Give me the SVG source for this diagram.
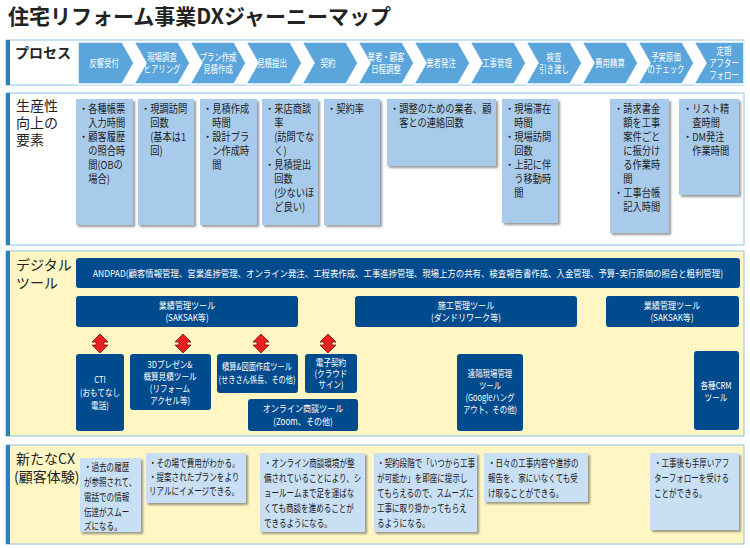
<svg xmlns="http://www.w3.org/2000/svg" width="750" height="548" viewBox="0 0 750 548">
<style>
text{font-family:"Noto Sans CJK JP","Liberation Sans",sans-serif;fill:#222}
.title{font-size:21px;font-weight:bold}
.sec{font-size:14px}
.ch{fill:#5aa5dc;stroke:#fff;stroke-width:1.5}
.chT{font-size:10px;fill:#fff;text-anchor:middle}
.card{fill:#a9cbeb}
.card2{fill:#c9dff3}
.ct{font-size:11px}
.cx{font-size:10.5px}
.db{fill:#004b8d}
.dt{font-size:9.5px;fill:#fff;text-anchor:middle}
.arr{fill:#e8211f;stroke:#7a1010;stroke-width:0.8}
</style>
<defs>
<filter id="sh" x="-10%" y="-10%" width="130%" height="130%"><feDropShadow dx="2" dy="2" stdDeviation="1.2" flood-color="#555" flood-opacity="0.6"/></filter>
</defs>
<text class="title" x="8" y="24">住宅リフォーム事業DXジャーニーマップ</text>

<g id="process">
<rect x="6" y="40" width="738" height="45" fill="#fff" stroke="#8cc3e6"/>
<rect x="6" y="40" width="4" height="45" fill="#2a7fc0"/>
<text class="sec" x="15" y="58" font-weight="bold">プロセス</text>
<g id="chevrons">
<polygon class="ch" points="78,42 122,42 134,63 122,84 78,84"/>
<polygon class="ch" points="134,42 178,42 190,63 178,84 134,84 146,63"/>
<polygon class="ch" points="190,42 234,42 246,63 234,84 190,84 202,63"/>
<polygon class="ch" points="246,42 290,42 302,63 290,84 246,84 258,63"/>
<polygon class="ch" points="302,42 346,42 358,63 346,84 302,84 314,63"/>
<polygon class="ch" points="358,42 402,42 414,63 402,84 358,84 370,63"/>
<polygon class="ch" points="414,42 458,42 470,63 458,84 414,84 426,63"/>
<polygon class="ch" points="470,42 514,42 526,63 514,84 470,84 482,63"/>
<polygon class="ch" points="526,42 570,42 582,63 570,84 526,84 538,63"/>
<polygon class="ch" points="582,42 626,42 638,63 626,84 582,84 594,63"/>
<polygon class="ch" points="638,42 682,42 694,63 682,84 638,84 650,63"/>
<polygon class="ch" points="694,42 744,42 744,84 694,84 706,63"/>
</g>
<g transform="translate(104,0) scale(0.74,1)"><text class="chT" x="0" y="67">反響受付</text></g>
<g transform="translate(162,0) scale(0.74,1)"><text class="chT" x="0" y="61">現場調査</text><text class="chT" x="0" y="73">ヒアリング</text></g>
<g transform="translate(218,0) scale(0.74,1)"><text class="chT" x="0" y="61">プラン作成</text><text class="chT" x="0" y="73">見積作成</text></g>
<g transform="translate(272,0) scale(0.74,1)"><text class="chT" x="0" y="67">見積提出</text></g>
<g transform="translate(328,0) scale(0.74,1)"><text class="chT" x="0" y="67">契約</text></g>
<g transform="translate(386,0) scale(0.74,1)"><text class="chT" x="0" y="61">業者・顧客</text><text class="chT" x="0" y="73">日程調整</text></g>
<g transform="translate(441,0) scale(0.74,1)"><text class="chT" x="0" y="67">業者発注</text></g>
<g transform="translate(497,0) scale(0.74,1)"><text class="chT" x="0" y="67">工事管理</text></g>
<g transform="translate(554,0) scale(0.74,1)"><text class="chT" x="0" y="61">検査</text><text class="chT" x="0" y="73">引き渡し</text></g>
<g transform="translate(610,0) scale(0.74,1)"><text class="chT" x="0" y="67">費用精算</text></g>
<g transform="translate(666,0) scale(0.74,1)"><text class="chT" x="0" y="61">予実原価</text><text class="chT" x="0" y="73">のチェック</text></g>
<g transform="translate(724,0) scale(0.74,1)"><text class="chT" x="0" y="55">定期</text><text class="chT" x="0" y="67">アフター</text><text class="chT" x="0" y="79">フォロー</text></g>
</g>

<g id="productivity">
<rect x="6" y="93" width="738" height="152" fill="#fff" stroke="#8cc3e6"/>
<rect x="6" y="93" width="4" height="152" fill="#2a7fc0"/>
<text class="sec" x="16" y="111">生産性</text><text class="sec" x="16" y="128">向上の</text><text class="sec" x="16" y="145">要素</text>
<g filter="url(#sh)">
<rect class="card" x="76" y="99" width="57" height="126"/>
<rect class="card" x="138" y="99" width="56" height="126"/>
<rect class="card" x="200" y="99" width="57" height="126"/>
<rect class="card" x="262" y="99" width="56" height="126"/>
<rect class="card" x="324" y="99" width="56" height="126"/>
<rect class="card" x="387" y="99" width="109" height="67"/>
<rect class="card" x="502" y="99" width="56" height="124"/>
<rect class="card" x="610" y="99" width="59" height="134"/>
<rect class="card" x="679" y="99" width="60" height="96"/>
</g>
<g transform="translate(79,0) scale(0.84,1)"><text class="ct" x="0" y="113">・各種帳票</text><text class="ct" x="0" y="127">　入力時間</text><text class="ct" x="0" y="141">・顧客履歴</text><text class="ct" x="0" y="155">　の照合時</text><text class="ct" x="0" y="169">　間(OBの</text><text class="ct" x="0" y="183">　場合)</text></g>
<g transform="translate(141,0) scale(0.84,1)"><text class="ct" x="0" y="113">・現調訪問</text><text class="ct" x="0" y="127">　回数</text><text class="ct" x="0" y="141">　(基本は1</text><text class="ct" x="0" y="155">　回)</text></g>
<g transform="translate(203,0) scale(0.84,1)"><text class="ct" x="0" y="113">・見積作成</text><text class="ct" x="0" y="127">　時間</text><text class="ct" x="0" y="141">・設計プラ</text><text class="ct" x="0" y="155">　ン作成時</text><text class="ct" x="0" y="169">　間</text></g>
<g transform="translate(265,0) scale(0.84,1)"><text class="ct" x="0" y="113">・来店商談</text><text class="ct" x="0" y="127">　率</text><text class="ct" x="0" y="141">　(訪問でな</text><text class="ct" x="0" y="155">　く)</text><text class="ct" x="0" y="169">・見積提出</text><text class="ct" x="0" y="183">　回数</text><text class="ct" x="0" y="197">　(少ないほ</text><text class="ct" x="0" y="211">　ど良い)</text></g>
<g transform="translate(327,0) scale(0.84,1)"><text class="ct" x="0" y="113">・契約率</text></g>
<g transform="translate(390,0) scale(0.84,1)"><text class="ct" x="0" y="113">・調整のための業者、顧</text><text class="ct" x="0" y="127">　客との連絡回数</text></g>
<g transform="translate(505,0) scale(0.84,1)"><text class="ct" x="0" y="113">・現場滞在</text><text class="ct" x="0" y="127">　時間</text><text class="ct" x="0" y="141">・現場訪問</text><text class="ct" x="0" y="155">　回数</text><text class="ct" x="0" y="169">・上記に伴</text><text class="ct" x="0" y="183">　う移動時</text><text class="ct" x="0" y="197">　間</text></g>
<g transform="translate(614,0) scale(0.84,1)"><text class="ct" x="0" y="113">・請求書金</text><text class="ct" x="0" y="127">　額を工事</text><text class="ct" x="0" y="141">　案件ごと</text><text class="ct" x="0" y="155">　に振分け</text><text class="ct" x="0" y="169">　る作業時</text><text class="ct" x="0" y="183">　間</text><text class="ct" x="0" y="197">・工事台帳</text><text class="ct" x="0" y="211">　記入時間</text></g>
<g transform="translate(683,0) scale(0.84,1)"><text class="ct" x="0" y="113">・リスト精</text><text class="ct" x="0" y="127">　査時間</text><text class="ct" x="0" y="141">・DM発注</text><text class="ct" x="0" y="155">　作業時間</text></g>
</g>

<g id="digital">
<rect x="6" y="251" width="738" height="185" fill="#fff6c4" stroke="#8cc3e6"/>
<rect x="6" y="251" width="4" height="185" fill="#2a7fc0"/>
<text class="sec" x="16" y="270">デジタル</text><text class="sec" x="16" y="288">ツール</text>
<g id="andpad"><rect class="db" x="76" y="258" width="664" height="30" rx="3"/>
<text class="dt" x="408" y="277" textLength="630" lengthAdjust="spacingAndGlyphs">ANDPAD(顧客情報管理、営業進捗管理、オンライン発注、工程表作成、工事進捗管理、現場上方の共有、検査報告書作成、入金管理、予算ｰ実行原価の照合と粗利管理)</text></g>
<g id="saksak1"><rect class="db" x="76" y="296" width="222" height="31" rx="3"/><g transform="translate(187,0) scale(0.85,1)"><text class="dt" x="0" y="309">業績管理ツール</text><text class="dt" x="0" y="321">(SAKSAK等)</text></g></g>
<g id="sekou"><rect class="db" x="355" y="296" width="222" height="31" rx="3"/><g transform="translate(466,0) scale(0.85,1)"><text class="dt" x="0" y="309">施工管理ツール</text><text class="dt" x="0" y="321">(ダンドリワーク等)</text></g></g>
<g id="saksak2"><rect class="db" x="606" y="296" width="133" height="31" rx="3"/><g transform="translate(672,0) scale(0.85,1)"><text class="dt" x="0" y="309">業績管理ツール</text><text class="dt" x="0" y="321">(SAKSAK等)</text></g></g>
<g id="cti"><rect class="db" x="76" y="354" width="48" height="77" rx="3"/><g transform="translate(100,0) scale(0.8,1)"><text class="dt" x="0" y="383">CTI</text><text class="dt" x="0" y="396">(おもてなし</text><text class="dt" x="0" y="409">電話)</text></g></g>
<g id="p3d"><rect class="db" x="130" y="354" width="81" height="56" rx="3"/><g transform="translate(170,0) scale(0.8,1)"><text class="dt" x="0" y="368">3Dプレゼン&amp;</text><text class="dt" x="0" y="380">概算見積ツール</text><text class="dt" x="0" y="392">(リフォーム</text><text class="dt" x="0" y="404">アクセル等)</text></g></g>
<g id="sekisan"><rect class="db" x="217" y="354" width="81" height="39" rx="3"/><g transform="translate(257,0) scale(0.76,1)"><text class="dt" x="0" y="370">積算&amp;図面作成ツール</text><text class="dt" x="0" y="383">(せきさん係長、その他)</text></g></g>
<g id="denshi"><rect class="db" x="305" y="354" width="52" height="39" rx="3"/><g transform="translate(331,0) scale(0.8,1)"><text class="dt" x="0" y="366">電子契約</text><text class="dt" x="0" y="377">(クラウド</text><text class="dt" x="0" y="388">サイン)</text></g></g>
<g id="online"><rect class="db" x="248" y="399" width="110" height="32" rx="3"/><g transform="translate(303,0) scale(0.85,1)"><text class="dt" x="0" y="412">オンライン商談ツール</text><text class="dt" x="0" y="425">(Zoom、その他)</text></g></g>
<g id="enkaku"><rect class="db" x="457" y="354" width="66" height="77" rx="3"/><g transform="translate(490,0) scale(0.78,1)"><text class="dt" x="0" y="377">遠隔現場管理</text><text class="dt" x="0" y="389">ツール</text><text class="dt" x="0" y="401">(Googleハング</text><text class="dt" x="0" y="413">アウト、その他)</text></g></g>
<g id="crm"><rect class="db" x="694" y="351" width="45" height="79" rx="3"/><g transform="translate(716,0) scale(0.8,1)"><text class="dt" x="0" y="389" font-size="8.5">各種CRM</text><text class="dt" x="0" y="401" font-size="8.5">ツール</text></g></g>
<g id="connectors">
<polygon class="arr" points="100,334 108,342 104,342 104,345 108,345 100,353 92,345 96,345 96,342 92,342"/>
<polygon class="arr" points="183,334 191,342 187,342 187,345 191,345 183,353 175,345 179,345 179,342 175,342"/>
<polygon class="arr" points="261,334 269,342 265,342 265,345 269,345 261,353 253,345 257,345 257,342 253,342"/>
<polygon class="arr" points="328,334 336,342 332,342 332,345 336,345 328,353 320,345 324,345 324,342 320,342"/>
</g>
</g>

<g id="cx">
<rect x="6" y="445" width="738" height="99" fill="#fff6c4" stroke="#8cc3e6"/>
<rect x="6" y="445" width="4" height="99" fill="#2a7fc0"/>
<text class="sec" x="16" y="464">新たなCX</text><text class="sec" x="14" y="482">(顧客体験)</text>
<g filter="url(#sh)">
<rect class="card2" x="80" y="458" width="61" height="74"/>
<rect class="card2" x="146" y="453" width="100" height="50"/>
<rect class="card2" x="260" y="453" width="105" height="79"/>
<rect class="card2" x="374" y="453" width="103" height="79"/>
<rect class="card2" x="484" y="453" width="104" height="49"/>
<rect class="card2" x="650" y="453" width="89" height="77"/>
</g>
<g transform="translate(84,0) scale(0.72,1)"><text class="cx" x="0" y="471">・過去の履歴</text><text class="cx" x="0" y="486">が参照されて、</text><text class="cx" x="0" y="501">電話での情報</text><text class="cx" x="0" y="516">伝達がスムー</text><text class="cx" x="0" y="530">ズになる。</text></g>
<g transform="translate(149,0) scale(0.72,1)"><text class="cx" x="0" y="467">・その場で費用がわかる。</text><text class="cx" x="0" y="481">・提案されたプランをより</text><text class="cx" x="0" y="495">リアルにイメージできる。</text></g>
<g transform="translate(264,0) scale(0.72,1)"><text class="cx" x="0" y="467">・オンライン商談環境が整</text><text class="cx" x="0" y="482">備されていることにより、シ</text><text class="cx" x="0" y="497">ョールームまで足を運ばな</text><text class="cx" x="0" y="512">くても商談を進めることが</text><text class="cx" x="0" y="527">できるようになる。</text></g>
<g transform="translate(377,0) scale(0.72,1)"><text class="cx" x="0" y="467">・契約段階で「いつから工事</text><text class="cx" x="0" y="482">が可能か」を即座に提示し</text><text class="cx" x="0" y="497">てもらえるので、スムーズに</text><text class="cx" x="0" y="512">工事に取り掛かってもらえ</text><text class="cx" x="0" y="527">るようになる。</text></g>
<g transform="translate(488,0) scale(0.72,1)"><text class="cx" x="0" y="467">・日々の工事内容や進捗の</text><text class="cx" x="0" y="482">報告を、家にいなくても受</text><text class="cx" x="0" y="497">け取ることができる。</text></g>
<g transform="translate(654,0) scale(0.72,1)"><text class="cx" x="0" y="467">・工事後も手厚いアフ</text><text class="cx" x="0" y="482">ターフォローを受ける</text><text class="cx" x="0" y="497">ことができる。</text></g>
</g>
</svg>
